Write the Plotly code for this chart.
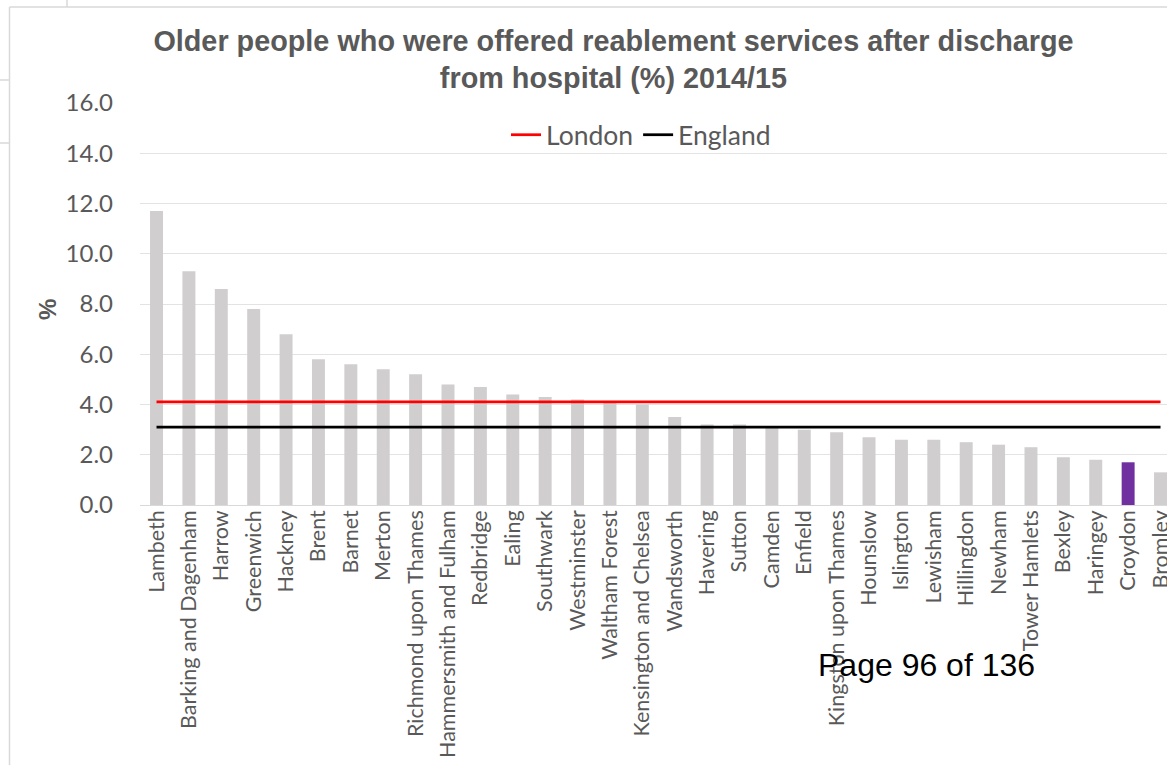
import plotly.graph_objects as go

boroughs = ["Lambeth", "Barking and Dagenham", "Harrow", "Greenwich", "Hackney", "Brent",
            "Barnet", "Merton", "Richmond upon Thames", "Hammersmith and Fulham", "Redbridge",
            "Ealing", "Southwark", "Westminster", "Waltham Forest", "Kensington and Chelsea",
            "Wandsworth", "Havering", "Sutton", "Camden", "Enfield", "Kingston upon Thames",
            "Hounslow", "Islington", "Lewisham", "Hillingdon", "Newham", "Tower Hamlets",
            "Bexley", "Haringey", "Croydon", "Bromley"]
values = [11.7, 9.3, 8.6, 7.8, 6.8, 5.8, 5.6, 5.4, 5.2, 4.8, 4.7, 4.4, 4.3, 4.2, 4.1, 4.0,
          3.5, 3.2, 3.2, 3.1, 3.0, 2.9, 2.7, 2.6, 2.6, 2.5, 2.4, 2.3, 1.9, 1.8, 1.7, 1.3]
london_value = 4.1
england_value = 3.1
highlight = "Croydon"
y_ticks = [0, 2, 4, 6, 8, 10, 12, 14, 16]

W, H = 1167, 765
L, R, T, B = 140, 0, 103, 260
pw, ph = W - L - R, H - T - B

def px(x):
    return (x - L) / pw

def py(y):
    return (H - B - y) / ph

bar_colors = ["#7030A0" if b == highlight else "#D0CECE" for b in boroughs]

fig = go.Figure()
fig.add_trace(go.Bar(x=boroughs, y=values, marker=dict(color=bar_colors, line=dict(width=0)),
                     width=0.4, showlegend=False, hoverinfo="x+y"))
fig.add_trace(go.Scatter(x=boroughs, y=[london_value] * len(boroughs), mode="lines",
                         name="London", line=dict(color="#FF0000", width=2.75)))
fig.add_trace(go.Scatter(x=boroughs, y=[england_value] * len(boroughs), mode="lines",
                         name="England", line=dict(color="#000000", width=2.75)))

grey = "#595959"
fig.update_layout(
    width=W, height=H,
    margin=dict(l=L, r=R, t=T, b=B, pad=0, autoexpand=False),
    paper_bgcolor="white", plot_bgcolor="white",
    title=dict(text="Older people who were offered reablement services after discharge<br>from hospital (%) 2014/15",
               x=613.5 / W, xref="container", xanchor="center",
               y=1 - 51 / H, yref="container", yanchor="middle",
               font=dict(family="Liberation Sans, Arial", size=28.8, color=grey, weight="bold")),
    legend=dict(orientation="h", x=px(641), xanchor="center", y=py(135), yanchor="middle",
                font=dict(family="Lato", size=26.5, color=grey), bgcolor="rgba(0,0,0,0)",
                itemwidth=30, tracegroupgap=0),
    xaxis=dict(type="category", range=[-0.51, 31.2], tickangle=-90, showgrid=False,
               tickfont=dict(family="Lato", size=21.5, color=grey), ticks="", automargin=False,
               showline=False, zeroline=False, fixedrange=True),
    yaxis=dict(range=[0, 16], tickvals=y_ticks, tickformat=".1f", showgrid=True,
               gridcolor="#E3E3E3", gridwidth=1, zeroline=True, zerolinecolor="#D9D9D9",
               zerolinewidth=1, ticks="", ticklabelstandoff=26, automargin=False,
               tickfont=dict(family="Lato", size=24, color=grey), fixedrange=True),
    bargap=0.6,
    showlegend=True,
)

fig.add_annotation(text="<b>%</b>", textangle=-90, x=px(47), y=py(310), xref="paper", yref="paper",
                   xanchor="center", yanchor="middle",
                   showarrow=False, font=dict(family="Liberation Sans, Arial", size=24, color=grey))
fig.add_annotation(text="Page 96 of 136", x=px(926), y=py(665), xref="paper", yref="paper",
                   xanchor="center", yanchor="middle",
                   showarrow=False, font=dict(family="Liberation Sans, Arial", size=32, color="black"))

border = "#D9D9D9"
shapes = [
    dict(x0=px(9.5), x1=px(9.5), y0=py(7), y1=py(765)),
    dict(x0=px(9.5), x1=px(1167), y0=py(7), y1=py(7)),
    dict(x0=px(67), x1=px(67), y0=py(0), y1=py(7)),
    dict(x0=px(0), x1=px(9.5), y0=py(80), y1=py(80)),
    dict(x0=px(0), x1=px(9.5), y0=py(143), y1=py(143)),
]
for s in shapes:
    fig.add_shape(type="line", xref="paper", yref="paper", line=dict(color=border, width=1.5), **s)

fig.write_html("out.html", config={"displayModeBar": False},
               post_script="document.body.style.margin='0';document.body.style.overflow='hidden';")
